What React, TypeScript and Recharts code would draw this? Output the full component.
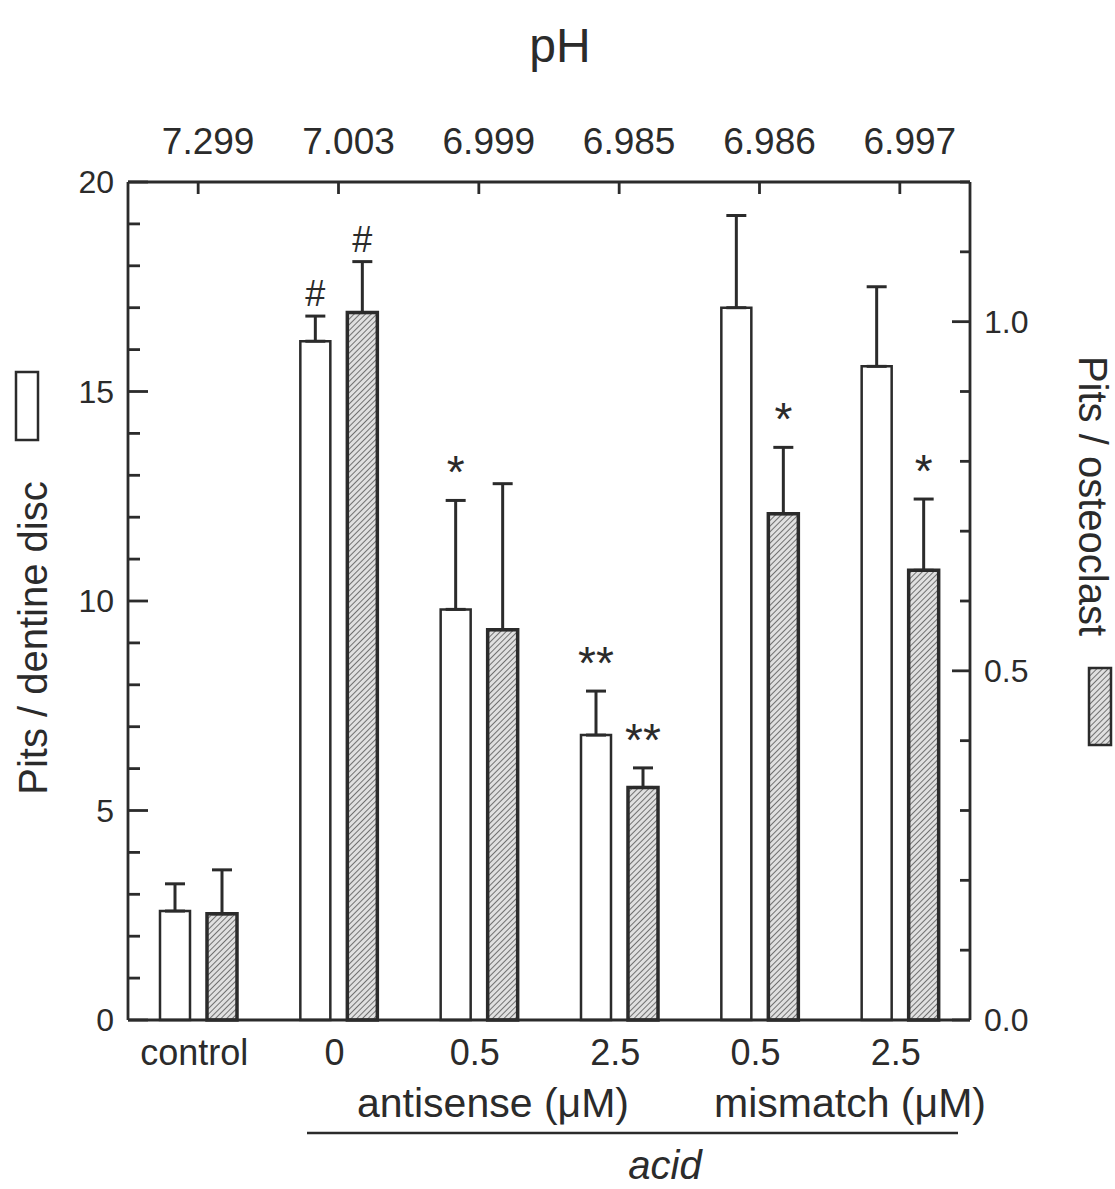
import { Bar, BarChart, ErrorBar, LabelList, XAxis, YAxis } from "recharts";

const groups = ["control", "0", "0.5", "2.5", "0.5", "2.5"];
const phValues = ["7.299", "7.003", "6.999", "6.985", "6.986", "6.997"];

// white bars, left axis
const pitsPerDisc = [2.6, 16.2, 9.8, 6.8, 17.0, 15.6];
const pitsPerDiscErr = [0.65, 0.6, 2.6, 1.05, 2.2, 1.9];
const discMarks = ["", "#", "*", "**", "", ""];

// hatched bars, right axis
const pitsPerOc = [0.152, 1.013, 0.559, 0.333, 0.725, 0.644];
const pitsPerOcErr = [0.063, 0.073, 0.209, 0.028, 0.095, 0.102];
const ocMarks = ["", "#", "", "**", "*", "*"];

const leftTicks = [0, 1, 2, 3, 4, 5, 6, 7, 8, 9, 10, 11, 12, 13, 14, 15, 16, 17, 18, 19, 20];
const leftMajor = [0, 5, 10, 15, 20];
const rightTicks = [0, 0.1, 0.2, 0.3, 0.4, 0.5, 0.6, 0.7, 0.8, 0.9, 1.0, 1.1, 1.2];
const rightMajor = [0, 0.5, 1.0];

const data = groups.map((group, i) => ({
  group,
  disc: pitsPerDisc[i],
  discErr: [0, pitsPerDiscErr[i]],
  oc: pitsPerOc[i],
  ocErr: [0, pitsPerOcErr[i]],
}));

const INK = "#2b2b2b";
const FONT = "'Liberation Sans', Arial, Helvetica, sans-serif";

const LeftTick = (props: any) => {
  const { x, y, payload } = props;
  const major = leftMajor.includes(payload.value);
  return (
    <g>
      <line x1={x} x2={x + (major ? 20 : 12)} y1={y} y2={y} stroke={INK} strokeWidth={2.8} />
      {major && (
        <text x={x - 14} y={y + 11} textAnchor="end" fontSize={32} fill={INK} fontFamily={FONT}>
          {payload.value}
        </text>
      )}
    </g>
  );
};

const RightTick = (props: any) => {
  const { x, y, payload } = props;
  const major = rightMajor.includes(payload.value);
  return (
    <g>
      <line x1={x - (major ? 18 : 10)} x2={x} y1={y} y2={y} stroke={INK} strokeWidth={2.8} />
      {major && (
        <text x={x + 14} y={y + 11} textAnchor="start" fontSize={32} fill={INK} fontFamily={FONT}>
          {payload.value.toFixed(1)}
        </text>
      )}
    </g>
  );
};

const TopTick = (props: any) => {
  const { x, y, index } = props;
  return (
    <g>
      <line x1={x} x2={x} y1={y} y2={y + 12} stroke={INK} strokeWidth={2.8} />
      <text x={x + 10} y={y - 28} textAnchor="middle" fontSize={37} fill={INK} fontFamily={FONT}>
        {phValues[index]}
      </text>
    </g>
  );
};

const BottomTick = (props: any) => {
  const { x, y, payload } = props;
  return (
    <text x={x - 4} y={y + 45} textAnchor="middle" fontSize={36} fill={INK} fontFamily={FONT}>
      {payload.value}
    </text>
  );
};

function markLabel(marks: string[], values: number[], errs: number[]) {
  return (props: any) => {
    const vb = props.viewBox ?? props;
    const i = props.index ?? values.indexOf(props.value);
    const mark = marks[i];
    if (!mark) return null;
    const perUnit = vb.height / values[i];
    const capY = vb.y - errs[i] * perUnit;
    const star = mark.startsWith("*");
    return (
      <text
        x={vb.x + vb.width / 2}
        y={capY - (star ? 12 : 10)}
        textAnchor="middle"
        fontSize={star ? 46 : 36}
        fill={INK}
        fontFamily={FONT}
      >
        {mark}
      </text>
    );
  };
}

export default function App() {
  return (
    <div style={{ position: "absolute", left: 0, top: 0, width: 1115, height: 1189, background: "#fff" }}>
      <svg width={1115} height={1189} style={{ position: "absolute", left: 0, top: 0 }} fontFamily={FONT}>
        <defs>
          <pattern id="hatch" width="4" height="4" patternUnits="userSpaceOnUse" patternTransform="rotate(45)">
            <rect width="4" height="4" fill="#e0e0e0" />
            <line x1="0" y1="0" x2="0" y2="4" stroke="#555" strokeWidth="1.6" />
          </pattern>
        </defs>
        <text x={560} y={62} textAnchor="middle" fontSize={48} fill={INK}>
          pH
        </text>
        <rect x={16} y={372} width={22} height={68} fill="#fff" stroke={INK} strokeWidth={2.5} />
        <text x={47} y={638} transform="rotate(-90 47 638)" textAnchor="middle" fontSize={40} fill={INK}>
          Pits / dentine disc
        </text>
        <rect x={1089} y={668} width={22} height={77} fill="url(#hatch)" stroke={INK} strokeWidth={2.5} />
        <text x={1079} y={496} transform="rotate(90 1079 496)" textAnchor="middle" fontSize={40} fill={INK}>
          Pits / osteoclast
        </text>
        <text x={493} y={1117} textAnchor="middle" fontSize={41} fill={INK}>
          antisense (μM)
        </text>
        <text x={850} y={1117} textAnchor="middle" fontSize={41} fill={INK}>
          mismatch (μM)
        </text>
        <line x1={307} x2={958} y1={1133} y2={1133} stroke={INK} strokeWidth={2.5} />
        <text x={665} y={1179} textAnchor="middle" fontSize={40} fontStyle="italic" fill={INK}>
          acid
        </text>
      </svg>
      <div style={{ position: "absolute", left: 0, top: 0 }}>
        <BarChart
          width={1115}
          height={1189}
          data={data}
          margin={{ top: 122, right: 85, bottom: 109, left: 68 }}
          barSize={30}
          barGap={17}
        >
          <XAxis
            xAxisId="bottom"
            dataKey="group"
            orientation="bottom"
            height={60}
            axisLine={{ stroke: INK, strokeWidth: 2.8 }}
            tickLine={false}
            tickSize={0}
            tickMargin={0}
            interval={0}
            tick={<BottomTick />}
          />
          <XAxis
            xAxisId="top"
            dataKey="group"
            orientation="top"
            height={60}
            axisLine={{ stroke: INK, strokeWidth: 2.8 }}
            tickLine={false}
            tickSize={0}
            tickMargin={0}
            interval={0}
            tick={<TopTick />}
          />
          <YAxis
            yAxisId="left"
            domain={[0, 20]}
            ticks={leftTicks}
            width={60}
            axisLine={{ stroke: INK, strokeWidth: 2.8 }}
            tickLine={false}
            tickSize={0}
            tickMargin={0}
            interval={0}
            tick={<LeftTick />}
          />
          <YAxis
            yAxisId="right"
            orientation="right"
            domain={[0, 1.2]}
            ticks={rightTicks}
            width={60}
            axisLine={{ stroke: INK, strokeWidth: 2.8 }}
            tickLine={false}
            tickSize={0}
            tickMargin={0}
            interval={0}
            tick={<RightTick />}
          />
          <Bar
            xAxisId="bottom"
            yAxisId="left"
            dataKey="disc"
            fill="#fff"
            stroke={INK}
            strokeWidth={2.5}
            isAnimationActive={false}
          >
            <ErrorBar dataKey="discErr" width={10} stroke={INK} strokeWidth={3} direction="y" isAnimationActive={false} />
            <LabelList dataKey="disc" content={markLabel(discMarks, pitsPerDisc, pitsPerDiscErr)} />
          </Bar>
          <Bar
            xAxisId="bottom"
            yAxisId="right"
            dataKey="oc"
            fill="url(#hatch)"
            stroke={INK}
            strokeWidth={3.5}
            isAnimationActive={false}
          >
            <ErrorBar dataKey="ocErr" width={10} stroke={INK} strokeWidth={3} direction="y" isAnimationActive={false} />
            <LabelList dataKey="oc" content={markLabel(ocMarks, pitsPerOc, pitsPerOcErr)} />
          </Bar>
        </BarChart>
      </div>
    </div>
  );
}
